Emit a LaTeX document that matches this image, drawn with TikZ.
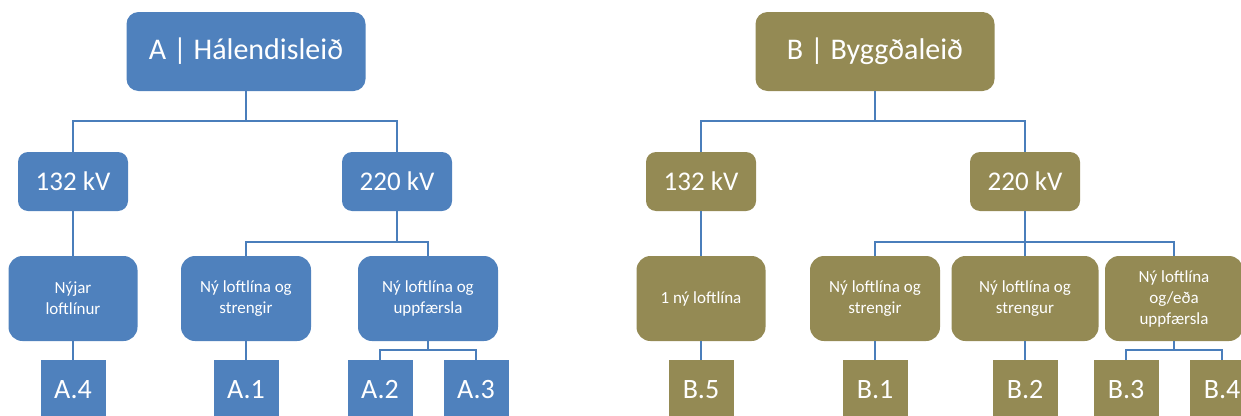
\documentclass[tikz,border=0pt]{standalone}
\usepackage{fontspec}
\setmainfont{Carlito}
\definecolor{blueA}{HTML}{4F81BD}
\definecolor{oliveB}{HTML}{948A54}
\definecolor{lineC}{HTML}{4A7EBB}
\begin{document}
\begin{tikzpicture}[x=1pt,y=-1pt,
  box/.style={fill=#1, text=white, inner sep=0pt, align=center},
  rootbox/.style={box=#1, rounded corners=12pt, minimum width=239pt, minimum height=79pt, font=\fontsize{30}{36}\selectfont},
  kvbox/.style={box=#1, rounded corners=10pt, minimum width=110pt, minimum height=59pt, font=\fontsize{27}{32}\selectfont},
  midbox/.style={box=#1, rounded corners=14pt, minimum height=85pt, font=\fontsize{17}{21}\selectfont},
  leaf/.style={box=#1, minimum width=65pt, minimum height=60pt, font=\fontsize{28}{32}\selectfont},
  conn/.style={draw=lineC, line width=1.5pt}]
\useasboundingbox (0,0) rectangle (1241,415);
\clip (0,0) rectangle (1241,415);
% ---- Tree A ----
\node[rootbox=blueA] (A) at (246,51.5) {A | Hálendisleið};
\node[kvbox=blueA] (A132) at (73,181.5) {132 kV};
\node[kvbox=blueA] (A220) at (397,181.5) {220 kV};
\node[midbox=blueA, minimum width=129pt] (An) at (73,298.5) {Nýjar\\loftlínur};
\node[midbox=blueA, minimum width=130pt] (As) at (246,298.5) {Ný loftlína og\\strengir};
\node[midbox=blueA, minimum width=140pt] (Au) at (428,298.5) {Ný loftlína og\\uppfærsla};
\node[leaf=blueA] (A4) at (73,390) {A.4};
\node[leaf=blueA] (A1) at (246,390) {A.1};
\node[leaf=blueA] (A2) at (380,390) {A.2};
\node[leaf=blueA] (A3) at (476,390) {A.3};
\coordinate (jA) at (246,121);
\coordinate (jA2) at (397,242);
\coordinate (jA3) at (428,350);
\draw[conn] (A.south) -- (jA) -| (A132.north);
\draw[conn] (jA) -| (A220.north);
\draw[conn] (A132.south) -- (An.north);
\draw[conn] (A220.south) -- (jA2) -| (As.north);
\draw[conn] (jA2) -| (Au.north);
\draw[conn] (An.south) -- (A4.north);
\draw[conn] (As.south) -- (A1.north);
\draw[conn] (Au.south) -- (jA3) -| (A2.north);
\draw[conn] (jA3) -| (A3.north);
% ---- Tree B ----
\node[rootbox=oliveB] (B) at (875,51.5) {B | Byggðaleið};
\node[kvbox=oliveB] (B132) at (701,181.5) {132 kV};
\node[kvbox=oliveB] (B220) at (1025,181.5) {220 kV};
\node[midbox=oliveB, minimum width=129pt] (Bn) at (701,298.5) {1 ný loftlína};
\node[midbox=oliveB, minimum width=130pt] (Bs) at (875,298.5) {Ný loftlína og\\strengir};
\node[midbox=oliveB, minimum width=147pt] (Bu) at (1025,298.5) {Ný loftlína og\\strengur};
\node[midbox=oliveB, minimum width=138pt] (Bo) at (1174,298.5) {Ný loftlína\\og/eða\\uppfærsla};
\node[leaf=oliveB] (B5) at (701,390) {B.5};
\node[leaf=oliveB] (B1) at (875,390) {B.1};
\node[leaf=oliveB] (B2) at (1025,390) {B.2};
\node[leaf=oliveB] (B3) at (1126,390) {B.3};
\node[leaf=oliveB] (B4) at (1222,390) {B.4};
\coordinate (jB) at (875,121);
\coordinate (jB2) at (1025,242);
\coordinate (jB3) at (1174,350);
\draw[conn] (B.south) -- (jB) -| (B132.north);
\draw[conn] (jB) -| (B220.north);
\draw[conn] (B132.south) -- (Bn.north);
\draw[conn] (B220.south) -- (jB2) -| (Bs.north);
\draw[conn] (jB2) -| (Bo.north);
\draw[conn] (jB2) -- (Bu.north);
\draw[conn] (Bn.south) -- (B5.north);
\draw[conn] (Bs.south) -- (B1.north);
\draw[conn] (Bu.south) -- (B2.north);
\draw[conn] (Bo.south) -- (jB3) -| (B3.north);
\draw[conn] (jB3) -| (B4.north);
\end{tikzpicture}
\end{document}
